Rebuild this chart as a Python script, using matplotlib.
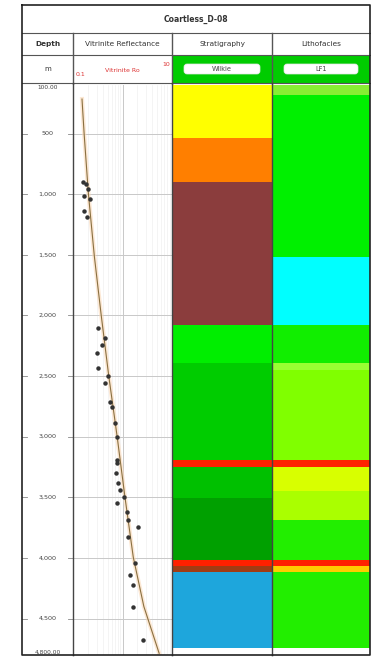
import numpy as np
import matplotlib
matplotlib.use("Agg")
import matplotlib.pyplot as plt
from matplotlib.patches import FancyBboxPatch
from matplotlib.ticker import NullFormatter

# ---- data ----
well_name = "Coartless_D-08"
track_names = ["Depth", "Vitrinite Reflectance", "Stratigraphy", "Lithofacies"]
depth_top, depth_base = 100, 4800
depth_ticks = [500, 1000, 1500, 2000, 2500, 3000, 3500, 4000, 4500]

ro_depth = [902, 918, 960, 1017, 1042, 1141, 1191, 2100, 2183, 2240, 2307, 2431,
            2497, 2555, 2712, 2754, 2885, 3001, 3191, 3215, 3298, 3381, 3439,
            3497, 3546, 3621, 3687, 3745, 3828, 4042, 4141, 4224, 4405, 4678]
ro_value = [0.159, 0.183, 0.201, 0.167, 0.22, 0.167, 0.192, 0.32, 0.443, 0.385,
            0.305, 0.32, 0.509, 0.443, 0.559, 0.614, 0.705, 0.774, 0.774, 0.774,
            0.738, 0.811, 0.89, 1.07, 0.774, 1.23, 1.29, 2.06, 1.29, 1.79, 1.42,
            1.63, 1.63, 2.59]

trend_depth = [216, 505, 1000, 1513, 1993, 2505, 3000, 3497, 3993, 4400, 4786]
trend_ro = [0.152, 0.168, 0.205, 0.27, 0.37, 0.53, 0.78, 1.12, 1.65, 2.7, 5.5]

strat_top = [100, 538, 902, 2075, 2389, 3191, 3249, 3505, 4017, 4067, 4117]
strat_base = [538, 902, 2075, 2389, 3191, 3249, 3505, 4017, 4067, 4117, 4745]
strat_color = ["#ffff00", "#ff7f00", "#8b3d3d", "#00ee00", "#00cc00", "#ff2000",
               "#00c000", "#00a000", "#ff2000", "#a03c14", "#1ea6dc"]

litho_top = [100, 180, 1521, 2075, 2389, 2447, 3191, 3249, 3450, 3687, 4017, 4067, 4117]
litho_base = [180, 1521, 2075, 2389, 2447, 3191, 3249, 3450, 3687, 4017, 4067, 4117, 4745]
litho_color = ["#88ee33", "#00f000", "#00ffff", "#11ee00", "#99ff33", "#80ff00",
               "#ff2000", "#d8ff00", "#aaff00", "#22ee00", "#ff2000", "#ffcc00", "#22ee00"]

# ---- layout (pixels) ----
W, H = 371, 660
col_x = [22, 73, 172, 272, 370]
row_y = [5, 33, 55, 83]
plot_top, plot_bot = 85, 655


def rect(x0, y0, x1, y1):
    return [x0 / W, 1 - y1 / H, (x1 - x0) / W, (y1 - y0) / H]


fig = plt.figure(figsize=(W / 100, H / 100), dpi=100)
plt.rcParams['font.family'] = ['DejaVu Sans']

# header canvas in pixel units
hd = fig.add_axes([0, 0, 1, 1])
hd.set_xlim(0, W)
hd.set_ylim(H, 0)
hd.axis("off")

line_c = "#555555"
for y in row_y[1:]:
    hd.plot([col_x[0], col_x[-1]], [y, y], color=line_c, lw=0.8)
for x in col_x[1:-1]:
    hd.plot([x, x], [row_y[1], plot_bot], color=line_c, lw=1.0)

hd.text((col_x[0] + col_x[-1]) / 2, (row_y[0] + row_y[1]) / 2, well_name,
        ha="center", va="center", fontsize=5.5, fontweight="bold", color="#333333")
for i, name in enumerate(track_names):
    hd.text((col_x[i] + col_x[i + 1]) / 2, (row_y[1] + row_y[2]) / 2, name,
            ha="center", va="center", fontsize=5.3, color="#333333",
            fontweight="bold" if i == 0 else "normal")

ym = (row_y[2] + row_y[3]) / 2
hd.text((col_x[0] + col_x[1]) / 2, ym, "m", ha="center", va="center",
        fontsize=5, color="#333333")
hd.text(col_x[1] + 3, ym + 5, "0.1", ha="left", va="center", fontsize=4.5, color="#dd3333")
hd.text((col_x[1] + col_x[2]) / 2, ym + 1, "Vitrinite Ro", ha="center", va="center",
        fontsize=4.5, color="#dd3333")
hd.text(col_x[2] - 2, ym - 5, "10", ha="right", va="center", fontsize=4.5, color="#dd3333")

for i, lab in [(2, "Wilkie"), (3, "LF1")]:
    hd.add_patch(plt.Rectangle((col_x[i], row_y[2]), col_x[i + 1] - col_x[i],
                               row_y[3] - row_y[2], color="#00cc00", lw=0))
    hd.add_patch(FancyBboxPatch((col_x[i] + 12, ym - 5), col_x[i + 1] - col_x[i] - 24, 10,
                                boxstyle="round,pad=0,rounding_size=3",
                                fc="white", ec="#e8e8e8", lw=0.5))
    hd.text((col_x[i] + col_x[i + 1]) / 2, ym, lab, ha="center", va="center",
            fontsize=4.8, color="#444444")

# ---- depth track ----
ax_d = fig.add_axes(rect(col_x[0], plot_top, col_x[1], plot_bot))
ax_d.set_ylim(depth_base, depth_top)
ax_d.set_xlim(0, 1)
ax_d.set_xticks([])
ax_d.set_yticks([])
for s in ax_d.spines.values():
    s.set_visible(False)
for d in depth_ticks:
    ax_d.plot([0, 0.1], [d, d], color="#888888", lw=0.6)
    ax_d.plot([0.9, 1], [d, d], color="#888888", lw=0.6)
    ax_d.text(0.5, d, f"{d:,}", ha="center", va="center", fontsize=4.6, color="#444444")
ax_d.text(0.5, depth_top, f"{depth_top:,.2f}", ha="center", va="top", fontsize=4.2,
          color="#444444")
ax_d.text(0.5, depth_base, f"{depth_base:,.2f}", ha="center", va="bottom", fontsize=4.2,
          color="#444444")

# ---- vitrinite track ----
ax_v = fig.add_axes(rect(col_x[1], plot_top, col_x[2], plot_bot))
ax_v.set_xscale("log")
ax_v.set_xlim(0.1, 10)
ax_v.set_ylim(depth_base, depth_top)
ax_v.set_yticks(depth_ticks)
ax_v.yaxis.set_major_formatter(NullFormatter())
ax_v.tick_params(which="both", length=0)
ax_v.xaxis.set_major_formatter(NullFormatter())
ax_v.xaxis.set_minor_formatter(NullFormatter())
ax_v.grid(True, which="major", color="#c8c8c8", lw=0.7)
ax_v.grid(True, which="minor", axis="x", color="#f0f0f0", lw=0.5)
for s in ax_v.spines.values():
    s.set_visible(False)
ax_v.plot(trend_ro, trend_depth, color="#fbd9b8", lw=3, alpha=0.6)
ax_v.plot(trend_ro, trend_depth, color="#8a7040", lw=0.8)
ax_v.plot(ro_value, ro_depth, "o", ms=2.2, color="#333333", mec="#333333")

# ---- stratigraphy ----
ax_s = fig.add_axes(rect(col_x[2], plot_top, col_x[3], plot_bot))
ax_s.set_ylim(depth_base, depth_top)
for t, b, c in zip(strat_top, strat_base, strat_color):
    ax_s.axhspan(t, b, color=c, lw=0)
ax_s.set_xticks([])
ax_s.set_yticks([])
for s in ax_s.spines.values():
    s.set_visible(False)

# ---- lithofacies ----
ax_l = fig.add_axes(rect(col_x[3], plot_top, col_x[4], plot_bot))
ax_l.set_ylim(depth_base, depth_top)
for t, b, c in zip(litho_top, litho_base, litho_color):
    ax_l.axhspan(t, b, color=c, lw=0)
ax_l.set_xticks([])
ax_l.set_yticks([])
for s in ax_l.spines.values():
    s.set_visible(False)

# separators and frame on top of the tracks
sep = fig.add_axes([0, 0, 1, 1], facecolor="none")
sep.set_xlim(0, W)
sep.set_ylim(H, 0)
sep.axis("off")
for x in col_x[1:-1]:
    sep.plot([x, x], [row_y[3], plot_bot], color="#444444", lw=1.0)
sep.plot([col_x[0], col_x[-1], col_x[-1], col_x[0], col_x[0]],
         [row_y[0], row_y[0], plot_bot, plot_bot, row_y[0]], color="#222222", lw=1.2)

fig.savefig("out.png", dpi=100)
